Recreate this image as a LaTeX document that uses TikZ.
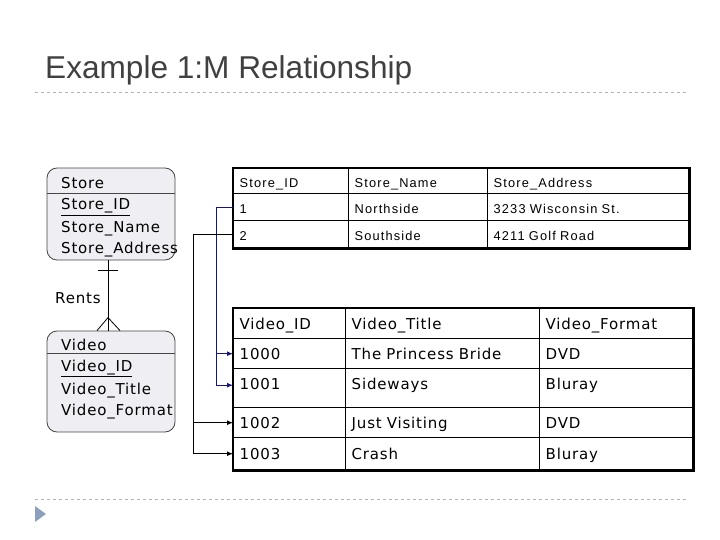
\documentclass[tikz,border=0pt]{standalone}
\usepackage{fontspec}
\setmainfont{Liberation Sans}
\newfontfamily\slidefont[LetterSpace=9]{Liberation Sans}
\newfontfamily\boldishfont[LetterSpace=5.5]{DejaVu Sans}
\usepackage{tikz}
\definecolor{titlegray}{RGB}{64, 64, 64}
\definecolor{rulegray}{RGB}{180, 180, 180}
\definecolor{entitybg}{RGB}{238, 238, 243}
\definecolor{entityline}{RGB}{70, 70, 70}
\definecolor{linkblue}{RGB}{20, 20, 130}
\definecolor{bulletblue}{RGB}{140, 160, 190}
\usetikzlibrary{positioning,arrows.meta}

\tikzset{
  cell/.style={draw, line width=1.4pt, anchor=north west, inner xsep=6pt, inner ysep=0pt, align=left, text height=12pt, text depth=0pt},
  scell/.style={cell, font=\slidefont\fontsize{12.8}{16}\selectfont},
  vcell/.style={cell, font=\boldishfont\fontsize{15}{18}\selectfont},
  entity/.style={draw=entityline, fill=entitybg, rounded corners=10pt, minimum width=128pt, line width=0.8pt},
  attr/.style={anchor=base west, inner sep=0pt, font=\boldishfont\fontsize{15}{18}\selectfont},
  fk/.style={-{Latex[length=6pt,width=5pt]}, line width=1pt}
}

\begin{document}
\begin{tikzpicture}[x=1pt, y=-1pt]
  \useasboundingbox (0,0) rectangle (720,540);

  % title and rules
  \node[anchor=base west, inner sep=0pt, text=titlegray, font=\fontsize{31.6}{36}\selectfont] (title) at (45,79) {Example 1:M Relationship};
  \draw[rulegray, dashed, line width=0.8pt] (35,92) -- (688,92);
  \draw[rulegray, dashed, line width=0.8pt] (35,499) -- (688,499);
  \fill[bulletblue] (35,506) -- (46,514) -- (35,522) -- cycle;

  % entities
  \node[entity, minimum height=92pt] (store) at (111,214) {};
  \draw[entityline, line width=0.8pt] (47,193) -- (175,193);
  \node[attr] (storehd) at (61,189) {Store};
  \node[attr] (storeid) at (61,210) {\underline{Store\_ID}};
  \node[attr] (storename) at (61,232.5) {Store\_Name};
  \node[attr] (storeaddr) at (61,253.5) {Store\_Address};

  \node[entity, minimum height=101pt] (video) at (111,381.5) {};
  \draw[entityline, line width=0.8pt] (47,353.5) -- (175,353.5);
  \node[attr] (videohd) at (61,350) {Video};
  \node[attr] (videoid) at (61,371.5) {\underline{Video\_ID}};
  \node[attr] (videotitle) at (61,394) {Video\_Title};
  \node[attr] (videoformat) at (61,415) {Video\_Format};

  % relationship
  \draw[line width=0.8pt] ([xshift=-3pt]store.south) -- ([xshift=-3pt]video.north);
  \draw[line width=0.8pt] ([xshift=-13pt,yshift=-10pt]store.south) -- ([xshift=7pt,yshift=-10pt]store.south);
  \draw[line width=0.8pt] ([xshift=-14pt]video.north) -- ([xshift=-3pt,yshift=13pt]video.north) -- ([xshift=9pt]video.north);
  \node[attr] (rents) at (55,303) {Rents};

  % store table
  \node[scell, text width=103pt, minimum height=25pt] (sid) at (233,168) {Store\_ID};
  \node[scell, text width=127pt, minimum height=25pt] (sname) at (348,168) {Store\_Name};
  \node[scell, text width=189pt, minimum height=25pt] (saddr) at (487,168) {Store\_Address};
  \node[scell, text width=103pt, minimum height=27pt] (s1id) at (233,193) {1};
  \node[scell, text width=127pt, minimum height=27pt] (s1name) at (348,193) {Northside};
  \node[scell, text width=189pt, minimum height=27pt] (s1addr) at (487,193) {3233 Wisconsin St.};
  \node[scell, text width=103pt, minimum height=27pt] (s2id) at (233,220) {2};
  \node[scell, text width=127pt, minimum height=27pt] (s2name) at (348,220) {Southside};
  \node[scell, text width=189pt, minimum height=27pt] (s2addr) at (487,220) {4211 Golf Road};
  \draw[line width=2.6pt] (sid.north west) rectangle (s2addr.south east);

  % video table
  \node[vcell, text width=100pt, minimum height=30pt] (vid) at (233,308) {Video\_ID};
  \node[vcell, text width=182pt, minimum height=30pt] (vtitle) at (345,308) {Video\_Title};
  \node[vcell, text width=141pt, minimum height=30pt] (vformat) at (539,308) {Video\_Format};
  \node[vcell, text width=100pt, minimum height=30pt] (v1000) at (233,338) {1000};
  \node[vcell, text width=182pt, minimum height=30pt] (v1000t) at (345,338) {The Princess Bride};
  \node[vcell, text width=141pt, minimum height=30pt] (v1000f) at (539,338) {DVD};
  \node[vcell, text width=100pt, minimum height=39pt, text depth=9pt] (v1001) at (233,368) {1001};
  \node[vcell, text width=182pt, minimum height=39pt, text depth=9pt] (v1001t) at (345,368) {Sideways};
  \node[vcell, text width=141pt, minimum height=39pt, text depth=9pt] (v1001f) at (539,368) {Bluray};
  \node[vcell, text width=100pt, minimum height=30pt] (v1002) at (233,407) {1002};
  \node[vcell, text width=182pt, minimum height=30pt] (v1002t) at (345,407) {Just Visiting};
  \node[vcell, text width=141pt, minimum height=30pt] (v1002f) at (539,407) {DVD};
  \node[vcell, text width=100pt, minimum height=32pt] (v1003) at (233,437) {1003};
  \node[vcell, text width=182pt, minimum height=32pt] (v1003t) at (345,437) {Crash};
  \node[vcell, text width=141pt, minimum height=32pt] (v1003f) at (539,437) {Bluray};
  \draw[line width=2.6pt] (vid.north west) rectangle (v1003f.south east);

  % foreign keys
  \draw[fk, linkblue] (s1id.west) -- ++(-17,0) |- (v1000.west);
  \draw[fk, linkblue] (s1id.west) -- ++(-17,0) |- ([yshift=3pt]v1001.west);
  \draw[fk] (s2id.west) -- ++(-40,0) |- (v1002.west);
  \draw[fk] (s2id.west) -- ++(-40,0) |- (v1003.west);
\end{tikzpicture}
\end{document}
